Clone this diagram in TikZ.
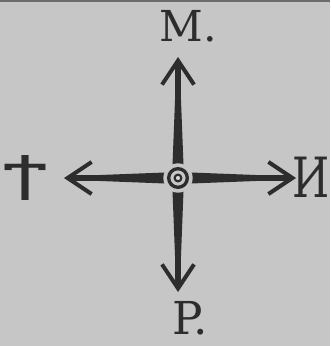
\documentclass[tikz,border=0pt]{standalone}
\usepackage{fontspec}
\setmainfont{DejaVu Serif}
\newfontfamily\copticfont{DejaVu Sans}
\usetikzlibrary{arrows.meta}
\definecolor{paper}{RGB}{198,198,198}
\definecolor{ink}{RGB}{45,45,45}
\tikzset{
  arm/.style={draw=ink, line width=4pt, line cap=round,
    -{Straight Barb[length=18pt,width=24pt,line width=3pt]}, shorten <=8pt},
  letter/.style={text=ink, font=\fontsize{32}{32}\selectfont, inner sep=0pt},
}
\begin{document}
\begin{tikzpicture}[x=0.75pt,y=-0.75pt]
\fill[paper] (0,0) rectangle (330,346);
\useasboundingbox (0,0) rectangle (330,346);
\draw[ink!70, line width=1.5pt] (0,1) -- (330,1);
% named points
\coordinate (c) at (178,178);
\coordinate (tn) at (178,57);
\coordinate (ts) at (178,292);
\coordinate (tw) at (64,178);
\coordinate (te) at (296,178);
% letters
\node[letter] (lm) at (188,26) {M.};
\node[letter, font=\fontsize{34}{34}\selectfont] (lp) at (190,318) {P.};
\node[letter, yscale=1.3] (li) at (311,177) {И};
\node[letter, font=\copticfont\fontsize{36}{36}\selectfont, xscale=1.5] (lt) at (25,178) {Ϯ};
% arms
\draw[arm] (c) -- (tn);
\draw[arm] (c) -- (ts);
\draw[arm] (c) -- (tw);
\draw[arm] (c) -- (te);
% tapering near centre
\fill[ink] (172,178) -- (175,100) -- (181,100) -- (184,178) -- cycle;
\fill[ink] (172,178) -- (175,256) -- (181,256) -- (184,178) -- cycle;
\fill[ink] (178,172) -- (100,175) -- (100,181) -- (178,184) -- cycle;
\fill[ink] (178,172) -- (256,175) -- (256,181) -- (178,184) -- cycle;
% centre ring
\node[circle, fill=paper, minimum size=22pt, inner sep=0pt] (ch) at (c) {};
\node[circle, draw=ink, line width=2.5pt, fill=paper, minimum size=14pt, inner sep=0pt] (cr) at (c) {};
\node[circle, draw=ink, line width=1.6pt, fill=paper!70!white, minimum size=5pt, inner sep=0pt] (cd) at (c) {};
\end{tikzpicture}
\end{document}
